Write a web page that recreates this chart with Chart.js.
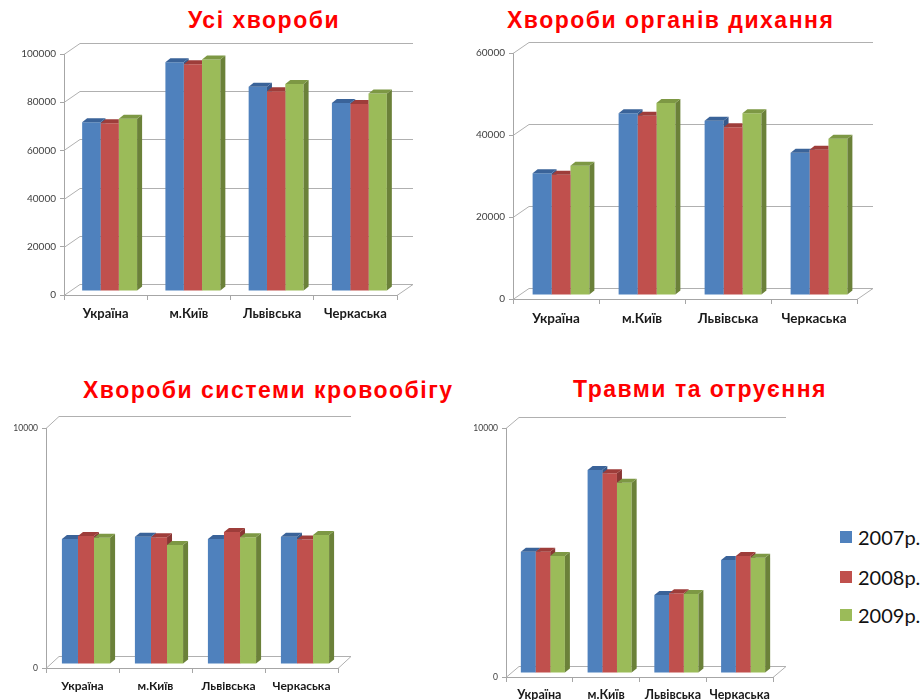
<!DOCTYPE html>
<html>
<head>
<meta charset="utf-8">
<script src="https://cdn.jsdelivr.net/npm/chart.js@4/dist/chart.umd.min.js"></script>
<style>
  body { margin: 0; width: 923px; height: 700px; background: #fff; position: relative; overflow: hidden; }
  canvas { position: absolute; }
  .title { position: absolute; font-family: "Liberation Sans", Arial, sans-serif; font-weight: bold;
           font-size: 23px; line-height: 23px; letter-spacing: 1.5px; color: #ff0000; white-space: nowrap; }
  .leg { position: absolute; left: 840px; height: 20px; display: flex; align-items: center;
         font-family: Lato, sans-serif; font-size: 20px; color: #111; white-space: nowrap; }
  .leg span { display: inline-block; width: 12px; height: 12px; margin-right: 6px; }
</style>
</head>
<body>
<div class="title" style="left:188px; top:8.5px">Усі хвороби</div>
<div class="title" style="left:507px; top:8.5px">Хвороби органів дихання</div>
<div class="title" style="left:83px; top:378.5px">Хвороби системи кровообігу</div>
<div class="title" style="left:573px; top:377.5px">Травми та отруєння</div>
<canvas id="c1" width="440" height="300" style="left:0; top:30px"></canvas>
<canvas id="c2" width="463" height="305" style="left:460px; top:30px"></canvas>
<canvas id="c3" width="460" height="300" style="left:0; top:400px"></canvas>
<canvas id="c4" width="340" height="300" style="left:460px; top:400px"></canvas>
<div id="legend"></div>
<script>
const categories = ['Україна', 'м.Київ', 'Львівська', 'Черкаська'];
const years = ['2007р.', '2008р.', '2009р.'];

// Усі хвороби
const all2007 = [70000, 94900, 84700, 78000];
const all2008 = [69600, 94100, 82900, 77600];
const all2009 = [71500, 96100, 85900, 82000];
// Хвороби органів дихання
const resp2007 = [29700, 44300, 42500, 34700];
const resp2008 = [29300, 43700, 40900, 35400];
const resp2009 = [31500, 46800, 44300, 38100];
// Хвороби системи кровообігу
const circ2007 = [5210, 5300, 5210, 5300];
const circ2008 = [5330, 5280, 5500, 5190];
const circ2009 = [5260, 4960, 5280, 5380];
// Травми та отруєння
const inj2007 = [4870, 8150, 3130, 4540];
const inj2008 = [4870, 8020, 3200, 4700];
const inj2009 = [4700, 7640, 3170, 4630];

const frontColors = ['#4f81bd', '#c0504d', '#9bbb59'];
const sideColors = ['#36598a', '#8a3634', '#6b8139'];
const topColors = ['#3a6399', '#9e3d3a', '#7d9844'];

// back wall, floor and bar side/top faces
const wall3d = {
  id: 'wall3d',
  beforeDatasetsDraw(chart, args, o) {
    const { ctx, chartArea: a, scales: { y } } = chart;
    ctx.save();
    ctx.strokeStyle = '#b0b0b0';
    ctx.lineWidth = 1;
    y.ticks.forEach(t => {
      const py = Math.round(y.getPixelForValue(t.value)) + 0.5;
      ctx.beginPath();
      ctx.moveTo(a.left, py);
      ctx.lineTo(a.left + o.dx, py + o.dy);
      ctx.lineTo(a.right + o.dx, py + o.dy);
      ctx.stroke();
    });
    const b = Math.round(a.bottom) + 0.5;
    ctx.beginPath();
    ctx.moveTo(a.right, b);
    ctx.lineTo(a.right + o.dx, b + o.dy);
    ctx.stroke();
    ctx.restore();
    ctx.save();
    ctx.translate(o.shiftX, -o.lift);
  },
  afterDatasetsDraw(chart, args, o) {
    const ctx = chart.ctx;
    const d = o.depth, h = d * 0.8;
    const n = chart.data.datasets.length;
    const bars = [];
    for (let i = 0; i < n; i++) {
      bars.push(chart.getDatasetMeta(i).data.map(el => el.getProps(['x', 'y', 'base', 'width'], true)));
    }
    categories.forEach((c, k) => {
      for (let i = 0; i < n; i++) {
        const { x, y, base, width } = bars[i][k];
        const l = x - width / 2, r = x + width / 2;
        ctx.save();
        if (i + 1 < n) {
          // hide the part covered by the front of the next bar
          const nb = bars[i + 1][k];
          ctx.beginPath();
          ctx.rect(-100, -100, chart.width + 200, chart.height + 200);
          ctx.rect(nb.x - nb.width / 2, nb.y, nb.width + 1, nb.base - nb.y);
          ctx.clip('evenodd');
        }
        ctx.fillStyle = sideColors[i];
        ctx.beginPath();
        ctx.moveTo(r, y); ctx.lineTo(r + d, y - h);
        ctx.lineTo(r + d, base - h); ctx.lineTo(r, base);
        ctx.closePath(); ctx.fill();
        ctx.fillStyle = topColors[i];
        ctx.beginPath();
        ctx.moveTo(l, y); ctx.lineTo(l + d, y - h);
        ctx.lineTo(r + d, y - h); ctx.lineTo(r, y);
        ctx.closePath(); ctx.fill();
        ctx.restore();
      }
    });
    ctx.restore();
  }
};

function makeChart(id, series, cfg) {
  new Chart(document.getElementById(id), {
    type: 'bar',
    data: {
      labels: categories,
      datasets: series.map((s, i) => ({
        label: years[i],
        data: s,
        backgroundColor: frontColors[i],
        borderWidth: 0,
        categoryPercentage: 0.66,
        barPercentage: 1.0
      }))
    },
    options: {
      responsive: false,
      animation: false,
      events: [],
      layout: { padding: { left: 0, top: cfg.padTop, right: cfg.padRight, bottom: 0 } },
      plugins: {
        legend: { display: false },
        tooltip: { enabled: false },
        wall3d: cfg.wall
      },
      scales: {
        x: {
          offset: true,
          border: { display: true, color: '#a6a6a6' },
          grid: { display: true, drawOnChartArea: false, offset: true, tickLength: 5, color: '#a6a6a6' },
          ticks: { color: '#1a1a1a', padding: cfg.labelPad, font: { family: 'Lato', weight: 'bold', size: cfg.labelSize } },
          afterFit: s => { s.height = cfg.xH; }
        },
        y: {
          min: 0,
          max: cfg.max,
          border: { display: true, color: '#a6a6a6' },
          grid: { display: true, drawOnChartArea: false, tickLength: 4, color: '#a6a6a6' },
          ticks: {
            stepSize: cfg.step, color: '#404040', padding: 4,
            font: { family: 'Lato', size: cfg.tickSize },
            callback: v => String(v)
          },
          afterFit: s => { s.width = cfg.yW; }
        }
      }
    },
    plugins: [wall3d]
  });
}

makeChart('c1', [all2007, all2008, all2009], {
  max: 100000, step: 20000, padTop: 24, padRight: 43, yW: 64, xH: 35,
  labelSize: 13, labelPad: 6, tickSize: 10,
  wall: { dx: 16, dy: -11, shiftX: 4, lift: 4, depth: 5 }
});
makeChart('c2', [resp2007, resp2008, resp2009], {
  max: 60000, step: 20000, padTop: 23, padRight: 66, yW: 53, xH: 36,
  labelSize: 13.5, labelPad: 7, tickSize: 10,
  wall: { dx: 16, dy: -11, shiftX: 5, lift: 4, depth: 5 }
});
makeChart('c3', [circ2007, circ2008, circ2009], {
  max: 10000, step: 10000, padTop: 28, padRight: 122, yW: 46, xH: 32,
  labelSize: 12, labelPad: 6, tickSize: 8.5,
  wall: { dx: 13, dy: -12, shiftX: 3.5, lift: 4, depth: 5 }
});
makeChart('c4', [inj2007, inj2008, inj2009], {
  max: 10000, step: 10000, padTop: 28, padRight: 27, yW: 46, xH: 23,
  labelSize: 12.5, labelPad: 5, tickSize: 8.5,
  wall: { dx: 13, dy: -11, shiftX: 3.5, lift: 4, depth: 5 }
});

// legend
const legendTops = [527, 567, 605];
document.getElementById('legend').innerHTML = years.map((y, i) =>
  `<div class="leg" style="top:${legendTops[i]}px"><span style="background:${frontColors[i]}"></span>${y}</div>`
).join('');
</script>
</body>
</html>
